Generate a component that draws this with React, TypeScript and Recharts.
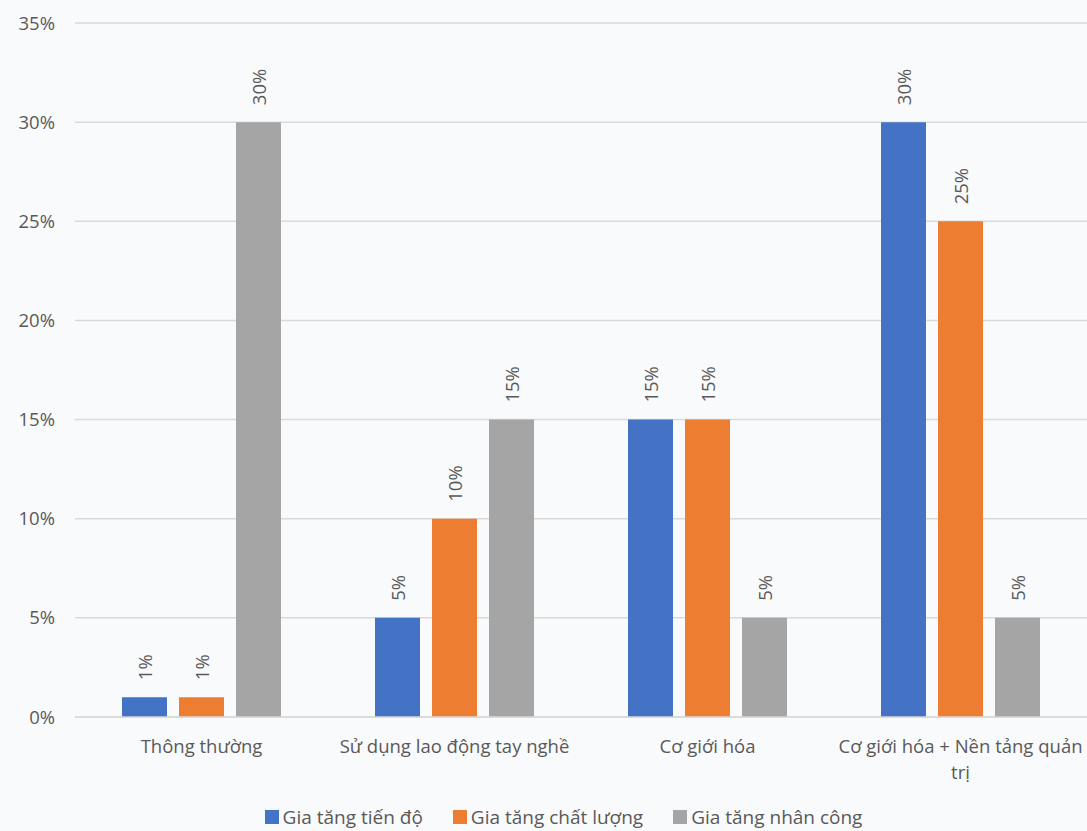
import React from "react";
import {
  BarChart,
  Bar,
  XAxis,
  YAxis,
  CartesianGrid,
  Legend,
  LabelList,
} from "recharts";

const categories = [
  "Thông thường",
  "Sử dụng lao động tay nghề",
  "Cơ giới hóa",
  "Cơ giới hóa + Nền tảng quản trị",
];
const tienDo = [0.01, 0.05, 0.15, 0.3];
const chatLuong = [0.01, 0.1, 0.15, 0.25];
const nhanCong = [0.3, 0.15, 0.05, 0.05];
const yTicks = [0, 0.05, 0.1, 0.15, 0.2, 0.25, 0.3, 0.35];

const series = [
  { key: "tienDo", name: "Gia tăng tiến độ", color: "#4472C4" },
  { key: "chatLuong", name: "Gia tăng chất lượng", color: "#ED7D31" },
  { key: "nhanCong", name: "Gia tăng nhân công", color: "#A5A5A5" },
];

const data = categories.map((name, i) => ({
  name,
  tienDo: tienDo[i],
  chatLuong: chatLuong[i],
  nhanCong: nhanCong[i],
}));

const FONT = "'Open Sans', sans-serif";
const TEXT = "#595959";
const FS = 18.5;
const pct = (v: number) => `${Math.round(v * 100)}%`;

// break a label into lines of at most maxChars characters (word boundaries)
function wrapWords(label: string, maxChars: number) {
  const lines: string[] = [];
  let cur = "";
  for (const w of label.split(" ")) {
    const next = cur ? `${cur} ${w}` : w;
    if (next.length > maxChars && cur) {
      lines.push(cur);
      cur = w;
    } else {
      cur = next;
    }
  }
  if (cur) lines.push(cur);
  return lines;
}

const VerticalLabel = (props: any) => {
  const { x, y, width, value } = props;
  const cx = x + width / 2;
  const ty = y - 17;
  return (
    <text
      x={cx}
      y={ty}
      transform={`rotate(-90 ${cx} ${ty})`}
      textAnchor="start"
      dominantBaseline="central"
      fill={TEXT}
      fontSize={FS}
      fontFamily={FONT}
    >
      {pct(value)}
    </text>
  );
};

const CategoryTick = (props: any) => {
  const { x, y, payload } = props;
  const lines = wrapWords(payload.value, 28);
  return (
    <text
      x={x}
      y={y + 28}
      textAnchor="middle"
      fill={TEXT}
      fontSize={FS}
      fontFamily={FONT}
    >
      {lines.map((l, i) => (
        <tspan key={i} x={x} dy={i === 0 ? 0 : 26}>
          {l}
        </tspan>
      ))}
    </text>
  );
};

// legend in series order (recharts sorts by name otherwise)
const LegendContent = () => (
  <div
    style={{
      display: "flex",
      justifyContent: "center",
      gap: 30,
      paddingLeft: 40,
      fontSize: 19,
      fontFamily: FONT,
      color: TEXT,
      lineHeight: "26px",
    }}
  >
    {series.map((s) => (
      <div key={s.key} style={{ display: "flex", alignItems: "center" }}>
        <span
          style={{
            display: "inline-block",
            width: 14,
            height: 14,
            background: s.color,
            marginRight: 4,
          }}
        />
        {s.name}
      </div>
    ))}
  </div>
);

export default function App() {
  return (
    <div
      style={{
        position: "absolute",
        left: 0,
        top: 0,
        width: 1087,
        height: 831,
        overflow: "hidden",
        background: "#f9fafb",
        fontFamily: FONT,
      }}
    >
      <BarChart
        width={1087}
        height={831}
        data={data}
        margin={{ top: 23, right: 0, left: 0, bottom: 8 }}
        barCategoryGap={47}
        barGap={12}
      >
        <CartesianGrid vertical={false} stroke="#d9d9d9" strokeWidth={1.5} />
        <XAxis
          dataKey="name"
          height={80}
          tickLine={false}
          axisLine={{ stroke: "#d9d9d9", strokeWidth: 1.5 }}
          tick={<CategoryTick />}
          interval={0}
        />
        <YAxis
          width={75}
          domain={[0, 0.35]}
          ticks={yTicks}
          tickFormatter={pct}
          axisLine={false}
          tickLine={false}
          tickMargin={14}
          tick={{ fill: TEXT, fontSize: FS, fontFamily: FONT }}
        />
        <Legend
          verticalAlign="bottom"
          content={<LegendContent />}
          wrapperStyle={{ bottom: 1, height: 26 }}
        />
        {series.map((s) => (
          <Bar
            key={s.key}
            dataKey={s.key}
            name={s.name}
            fill={s.color}
            isAnimationActive={false}
          >
            <LabelList dataKey={s.key} content={<VerticalLabel />} />
          </Bar>
        ))}
      </BarChart>
    </div>
  );
}
